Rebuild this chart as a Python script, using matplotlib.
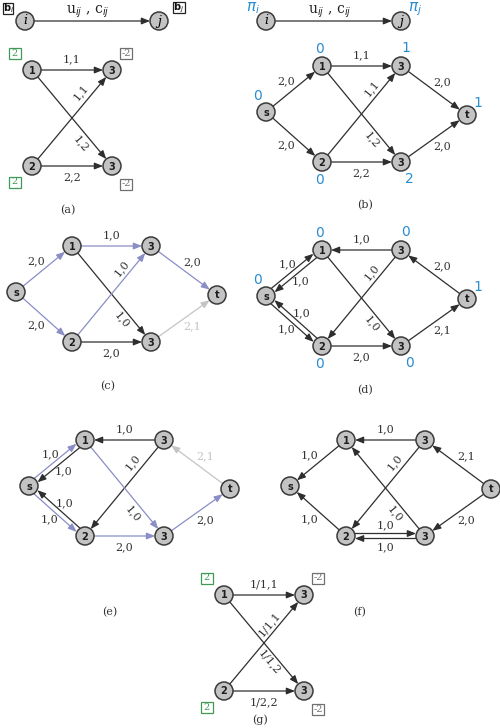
import math
import matplotlib.pyplot as plt
from matplotlib.patches import Circle, FancyArrowPatch, Rectangle

# ---- chart content ----
# nodes '3a' / '3b' are the two nodes both labelled "3"
node_text = {'s': 's', 't': 't', '1': '1', '2': '2', '3a': '3', '3b': '3'}

a_edges = [('1', '3a', '1,1'), ('1', '3b', '1,2'), ('2', '3a', '1,1'), ('2', '3b', '2,2')]
a_balance = {'1': '2', '2': '2', '3a': '-2', '3b': '-2'}

b_edges = [('s', '1', '2,0'), ('s', '2', '2,0'), ('1', '3a', '1,1'), ('1', '3b', '1,2'),
           ('2', '3a', '1,1'), ('2', '3b', '2,2'), ('3a', 't', '2,0'), ('3b', 't', '2,0')]
b_potential = {'s': '0', '1': '0', '2': '0', '3a': '1', '3b': '2', 't': '1'}

c_edges = [('s', '1', '2,0'), ('s', '2', '2,0'), ('1', '3a', '1,0'), ('1', '3b', '1,0'),
           ('2', '3a', '1,0'), ('2', '3b', '2,0'), ('3a', 't', '2,0'), ('3b', 't', '2,1')]
c_kinds = ['flow', 'flow', 'flow', 'plain', 'flow', 'plain', 'flow', 'faded']

d_edges = [('s', '1', '1,0'), ('1', 's', '1,0'), ('2', 's', '1,0'), ('s', '2', '1,0'),
           ('3a', '1', '1,0'), ('3a', '2', '1,0'), ('1', '3b', '1,0'), ('2', '3b', '2,0'),
           ('3b', 't', '2,1'), ('t', '3a', '2,0')]
d_potential = {'s': '0', '1': '0', '2': '0', '3a': '0', '3b': '0', 't': '1'}

e_edges = [('s', '1', '1,0'), ('1', 's', '1,0'), ('2', 's', '1,0'), ('s', '2', '1,0'),
           ('3a', '1', '1,0'), ('3a', '2', '1,0'), ('1', '3b', '1,0'), ('2', '3b', '2,0'),
           ('3b', 't', '2,0'), ('t', '3a', '2,1')]
e_kinds = ['flow', 'plain', 'plain', 'flow', 'plain', 'plain', 'flow', 'flow', 'flow', 'faded']

f_edges = [('1', 's', '1,0'), ('2', 's', '1,0'), ('3a', '1', '1,0'), ('3a', '2', '1,0'),
           ('3b', '1', '1,0'), ('2', '3b', '1,0'), ('3b', '2', '1,0'),
           ('t', '3a', '2,1'), ('t', '3b', '2,0')]

g_edges = [('1', '3a', '1/1,1'), ('1', '3b', '1/1,2'), ('2', '3a', '1/1,1'), ('2', '3b', '1/2,2')]
g_balance = {'1': '2', '2': '2', '3a': '-2', '3b': '-2'}

captions = {'a': '(a)', 'b': '(b)', 'c': '(c)', 'd': '(d)', 'e': '(e)', 'f': '(f)', 'g': '(g)'}

# ---- layout (pixels, y downwards) ----
R = 9
quad = {'1': (0, 0), '3a': (80, 0), '2': (0, 96), '3b': (80, 96)}
hexa = {'s': (0, 0), '1': (56, -46), '3a': (135, -46), '2': (56, 50), '3b': (135, 50), 't': (201, 3)}
origin = {'a': (32, 70), 'b': (266, 112), 'c': (16, 292), 'd': (266, 296),
          'e': (29, 486), 'f': (290, 486), 'g': (224, 595)}
caption_xy = {'a': (68, 210), 'b': (365, 205), 'c': (108, 386), 'd': (365, 390),
              'e': (110, 612), 'f': (360, 612), 'g': (260, 720)}
label_push = {frozenset(('1', '3a')): (0, -11), frozenset(('2', '3b')): (0, 11),
              frozenset(('s', '1')): (-8, -8), frozenset(('s', '2')): (-8, 8),
              frozenset(('3a', 't')): (8, -8), frozenset(('3b', 't')): (8, 8)}
pot_push = {'1': (-2, -17), '3a': (5, -18), 's': (-8, -16), 't': (11, -12), '2': (-3, 18), '3b': (8, 17)}
bal_push = {'1': (-17, -17), '3a': (14, -17), '2': (-17, 16), '3b': (14, 18)}

INK = '#2e2e2e'
FLOW = '#8a8ec6'
FADE = '#c4c4c4'
POT = '#2a8dd0'
GREEN = '#3f9a55'
SERIF = 'DejaVu Serif'

fig = plt.figure(figsize=(5, 7.28), dpi=100)
ax = fig.add_axes([0, 0, 1, 1])
ax.set_xlim(0, 500)
ax.set_ylim(728, 0)
ax.axis('off')


def node(x, y, txt, italic=False):
    ax.add_patch(Circle((x, y), R, fc='#c3c3c3', ec='#3a3a3a', lw=1.1, zorder=3))
    if italic:
        ax.text(x, y, txt, ha='center', va='center', fontsize=9, family=SERIF,
                style='italic', zorder=4)
    else:
        ax.text(x, y + 0.5, txt, ha='center', va='center', fontsize=7, weight='bold',
                color='#1e1e1e', zorder=4)


def arrow(p, q, color, shift=0.0):
    dx, dy = q[0] - p[0], q[1] - p[1]
    L = math.hypot(dx, dy)
    ux, uy = dx / L, dy / L
    ox, oy = uy * shift, -ux * shift
    a = (p[0] + ux * R + ox, p[1] + uy * R + oy)
    b = (q[0] - ux * R + ox, q[1] - uy * R + oy)
    ax.add_patch(FancyArrowPatch(a, b, arrowstyle='-|>,head_length=5,head_width=2',
                                 mutation_scale=1, color=color, lw=0.9,
                                 shrinkA=0, shrinkB=0, zorder=2))


def box(x, y, txt):
    col = GREEN if not txt.startswith('-') else '#707070'
    ax.add_patch(Rectangle((x - 6, y - 5.5), 12, 11, fc='white', ec=col, lw=0.9, zorder=3))
    ax.text(x, y, txt, ha='center', va='center', fontsize=7, family=SERIF,
            color=col, zorder=4)


def draw_panel(key, layout, edges, kinds=None, potentials=None, balance=None,
               diag_frac=0.77, diag_left=11):
    ox, oy = origin[key]
    pos = {n: (ox + dx, oy + dy) for n, (dx, dy) in layout.items()}
    pairs = {(u, v) for u, v, _ in edges}
    kinds = kinds or ['plain'] * len(edges)
    for (u, v, lab), kind in zip(edges, kinds):
        color = {'plain': INK, 'flow': FLOW, 'faded': FADE}[kind]
        tcol = FADE if kind == 'faded' else '#333333'
        p, q = pos[u], pos[v]
        pair = frozenset((u, v))
        rot = 0
        if (v, u) in pairs:
            sgn = -1 if pair == frozenset(('s', '2')) else 1
            arrow(p, q, color, 2.5 * sgn)
            L = math.hypot(q[0] - p[0], q[1] - p[1])
            nx, ny = (q[1] - p[1]) / L, -(q[0] - p[0]) / L
            lx = (p[0] + q[0]) / 2 + 11 * sgn * nx
            ly = (p[1] + q[1]) / 2 + 11 * sgn * ny
        elif pair in label_push:
            arrow(p, q, color)
            px, py = label_push[pair]
            lx, ly = (p[0] + q[0]) / 2 + px, (p[1] + q[1]) / 2 + py
        else:
            arrow(p, q, color)
            a, b = (p, q) if p[0] < q[0] else (q, p)
            lx = a[0] + diag_frac * (b[0] - a[0]) - diag_left
            ly = a[1] + diag_frac * (b[1] - a[1])
            rot = math.degrees(math.atan2(-(b[1] - a[1]), b[0] - a[0]))
        ax.text(lx, ly, lab, ha='center', va='center', fontsize=8, family=SERIF,
                color=tcol, rotation=rot, rotation_mode='anchor', zorder=4)
    for n, (x, y) in pos.items():
        node(x, y, node_text[n])
    if potentials:
        for n, val in potentials.items():
            x, y = pos[n]
            dx, dy = pot_push[n]
            ax.text(x + dx, y + dy, val, ha='center', va='center', fontsize=10,
                    color=POT, zorder=4)
    if balance:
        for n, val in balance.items():
            x, y = pos[n]
            dx, dy = bal_push[n]
            box(x + dx, y + dy, val)
    cx, cy = caption_xy[key]
    ax.text(cx, cy, captions[key], ha='center', va='center', fontsize=8, family=SERIF,
            color='#333333')


# legend headers
for (xi, xj) in [(25, 159), (266, 401)]:
    arrow((xi, 21), (xj, 21), INK)
    node(xi, 21, 'i', italic=True)
    node(xj, 21, 'j', italic=True)
    ax.text((xi + xj) / 2 - 4, 12, r'u$_{ij}$ , c$_{ij}$', ha='center', va='center',
            fontsize=10, family=SERIF, color='#222222')

for x, y, sub, w in [(8, 8, 'i', 10), (178.5, 7.5, 'j', 12)]:
    ax.add_patch(Rectangle((x - w / 2, y - 5.5), w, 11, fc='white', ec='#222222', lw=0.9))
    ax.text(x, y, r'$\mathbf{b}_{%s}$' % sub, ha='center', va='center', fontsize=7,
            color='#111111')

ax.text(253, 8, r'$\pi_i$', ha='center', va='center', fontsize=11, color=POT)
ax.text(415, 9, r'$\pi_j$', ha='center', va='center', fontsize=11, color=POT)

draw_panel('a', quad, a_edges, balance=a_balance, diag_left=13)
draw_panel('b', hexa, b_edges, potentials=b_potential)
draw_panel('c', hexa, c_edges, kinds=c_kinds)
draw_panel('d', hexa, d_edges, potentials=d_potential)
draw_panel('e', hexa, e_edges, kinds=e_kinds, diag_left=13)
draw_panel('f', hexa, f_edges, diag_left=12)
draw_panel('g', quad, g_edges, balance=g_balance, diag_frac=0.7, diag_left=11)

fig.savefig('out.png', dpi=100)
